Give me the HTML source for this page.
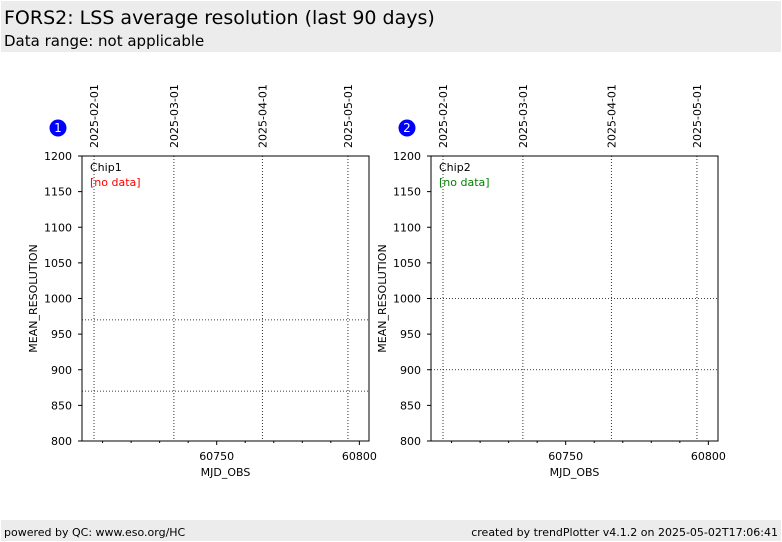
<!DOCTYPE html>
<html><head><meta charset="utf-8"><style>
body{margin:0;width:782px;height:542px;background:#fff;font-family:"DejaVu Sans","Liberation Sans",sans-serif;overflow:hidden;position:relative}
.band{position:absolute;left:1px;right:1px;background:#ececec}
</style></head><body>
<div class="band" style="top:1px;height:51px">
<div style="position:absolute;left:3px;top:6px;font-size:19px">FORS2: LSS average resolution (last 90 days)</div>
<div style="position:absolute;left:3px;top:31px;font-size:15px">Data range: not applicable</div>
</div>
<div class="band" style="top:520px;height:21px;font-size:11px">
<span style="position:absolute;left:3px;top:6px">powered by QC: www.eso.org/HC</span>
<span style="position:absolute;right:3px;top:6px">created by trendPlotter v4.1.2 on 2025-05-02T17:06:41</span>
</div>
<svg id="svg" width="782" height="542" style="position:absolute;left:0;top:0" font-family="DejaVu Sans, Liberation Sans, sans-serif"></svg>
<script>
const yTicks=[800,850,900,950,1000,1050,1100,1150,1200];
const xMajor=[60750,60800];
const dateLabels=["2025-02-01","2025-03-01","2025-04-01","2025-05-01"];
const dateMjd=[60707,60735,60766,60796];
const chip1Lines=[970,870];
const chip2Lines=[1000,900];
const panels=[{n:1,name:"Chip1",off:0,lines:chip1Lines,col:"#ff0000"},{n:2,name:"Chip2",off:349,lines:chip2Lines,col:"#008000"}];
const svg=document.getElementById('svg');
const NS="http://www.w3.org/2000/svg";
function mk(t,a,txt){const e=document.createElementNS(NS,t);for(const k in a)e.setAttribute(k,a[k]);if(txt!==undefined)e.textContent=txt;svg.appendChild(e);return e;}
const T=156,B=441;
function y(v){return B-(v-800)*(B-T)/400;}
panels.forEach(p=>{
 const L=82+p.off,R=369+p.off;
 const x=m=>216.7+p.off+(m-60750)*2.853;
 let e;
 e=mk('rect',{x:L,y:T,width:R-L,height:B-T,fill:'#fff',stroke:'#000','stroke-width':1});
 
 
 dateMjd.forEach((m,i)=>{
  e=mk('line',{x1:x(m),x2:x(m),y1:T,y2:B,stroke:'#000','stroke-dasharray':'1,2','stroke-width':0.8});
  
  
  const xx=x(m)+4;
  e=mk('text',{x:xx,y:148,'font-size':11,transform:`rotate(-90 ${xx} 148)`},dateLabels[i]);
  
  
 });
 p.lines.forEach(v=>{
  e=mk('line',{x1:L,x2:R,y1:y(v),y2:y(v),stroke:'#000','stroke-dasharray':'1,2','stroke-width':0.8});
  
  
 });
 yTicks.forEach(v=>{
  e=mk('line',{x1:L-4,x2:L,y1:y(v),y2:y(v),stroke:'#000'});
  
  
  e=mk('text',{x:L-10,y:y(v)+4,'font-size':11,'text-anchor':'end'},v);
  
  
 });
 for(let m=60710;m<=60800;m+=10){
  const maj=xMajor.includes(m);
  e=mk('line',{x1:x(m),x2:x(m),y1:B,y2:B+(maj?4:2),stroke:'#000'});
  
  
 }
 xMajor.forEach(m=>{
  e=mk('text',{x:x(m),y:B+19,'font-size':11,'text-anchor':'middle'},m);
  
  
 });
 e=mk('text',{x:(L+R)/2,y:476,'font-size':11,'text-anchor':'middle'},'MJD_OBS');
 
 
 const ty=(T+B)/2;
 e=mk('text',{x:37+p.off,y:ty,'font-size':11,'text-anchor':'middle',transform:`rotate(-90 ${37+p.off} ${ty})`},'MEAN_RESOLUTION');
 
 
 e=mk('text',{x:L+8,y:171,'font-size':11},p.name);
 
 
 e=mk('text',{x:L+8,y:186,'font-size':11,fill:p.col},'[no data]');
 
 
 e=mk('circle',{cx:58+p.off,cy:128,r:8.5,fill:'#0000ff'});
 
 
 e=mk('text',{x:58+p.off,y:132,'font-size':12,fill:'#fff','text-anchor':'middle'},p.n);
 
 
});
</script>
</body></html>
